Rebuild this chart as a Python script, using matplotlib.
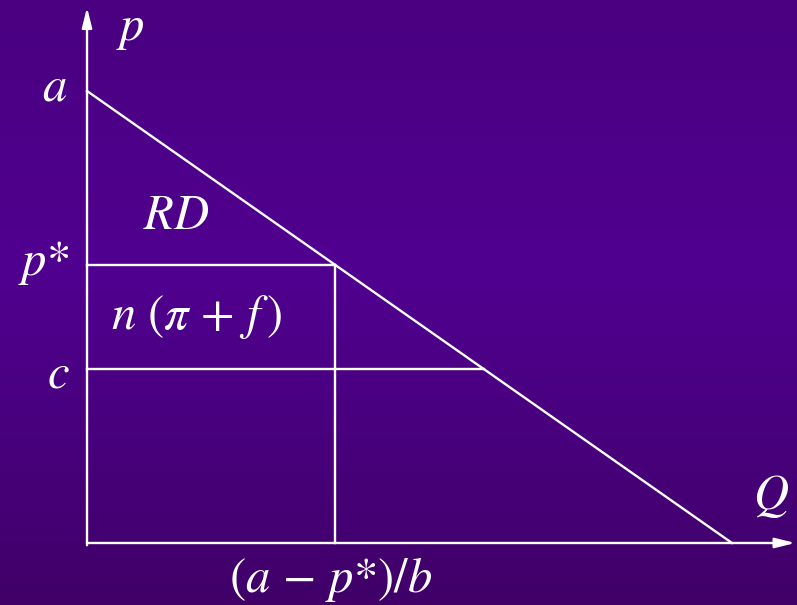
import numpy as np
import matplotlib
matplotlib.use("Agg")
import matplotlib.pyplot as plt

# model values (a - intercept, b - slope, p* and c levels)
a = 10.0
b = 1.0
p_star = 6.15
c = 3.85
q_max = a / b
q_star = (a - p_star) / b
q_c = (a - c) / b

plt.rcParams['mathtext.fontset'] = 'stix'

fig = plt.figure(figsize=(7.97, 6.05), dpi=100)
ax = fig.add_axes([0, 0, 1, 1])
xlim = (-1.349, 11.008)
ylim = (-1.372, 12.013)
ax.set_xlim(xlim)
ax.set_ylim(ylim)
ax.axis('off')

# purple background gradient
top = np.array([0x4a, 0x00, 0x80]) / 255
mid = np.array([0x50, 0x00, 0x90]) / 255
bot = np.array([0x40, 0x00, 0x68]) / 255
t = np.linspace(0, 1, 256)[:, None]
grad = np.where(t < 0.45, top + (mid - top) * (t / 0.45), mid + (bot - mid) * ((t - 0.45) / 0.55))
ax.imshow(grad[:, None, :], extent=(*xlim, *ylim), aspect='auto', zorder=0)

lc = 'white'
lw = 1.7
arrow = dict(arrowstyle='-|>,head_length=1.2,head_width=0.3', color=lc, lw=lw, shrinkA=0, shrinkB=0)

# axes with arrows
ax.annotate('', xy=(0, 11.85), xytext=(0, -0.05), arrowprops=arrow)
ax.annotate('', xy=(10.98, 0), xytext=(0, 0), arrowprops=arrow)

# demand line
ax.plot([0, q_max], [a, 0], color=lc, lw=lw)
# p* and c lines
ax.plot([0, q_star], [p_star, p_star], color=lc, lw=lw)
ax.plot([0, q_c], [c, c], color=lc, lw=lw)
ax.plot([q_star, q_star], [0, p_star], color=lc, lw=lw)

fs = 35
ax.text(0.67, 11.4, '$p$', color=lc, fontsize=fs, ha='center', va='center')
ax.text(-0.5, 10.1, '$a$', color=lc, fontsize=fs, ha='center', va='center')
ax.text(-0.68, 6.2, r'$p\mathrm{*}$', color=lc, fontsize=fs, ha='center', va='center')
ax.text(-0.45, 3.75, '$c$', color=lc, fontsize=fs, ha='center', va='center')
ax.text(1.38, 7.25, '$RD$', color=lc, fontsize=fs, ha='center', va='center')
ax.text(1.7, 5.0, r'$n\ (\pi\,+\,f\,)$', color=lc, fontsize=fs, ha='center', va='center')
ax.text(10.6, 1.05, '$Q$', color=lc, fontsize=fs, ha='center', va='center')
ax.text(q_star - 0.08, -0.8, r'$(a\,-\,p\mathrm{*})/b$', color=lc, fontsize=fs, ha='center', va='center')

fig.savefig('out.png', dpi=100)
